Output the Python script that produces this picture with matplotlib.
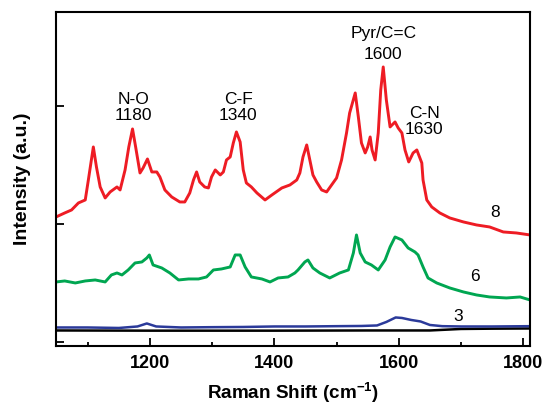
import matplotlib
matplotlib.use("Agg")
import matplotlib.pyplot as plt
from matplotlib.ticker import MultipleLocator

plt.rcParams['font.family'] = ['Liberation Sans', 'DejaVu Sans']
plt.rcParams['mathtext.fontset'] = 'custom'
plt.rcParams['mathtext.rm'] = 'Liberation Sans'
plt.rcParams['mathtext.bf'] = 'Liberation Sans:bold'

# Raman spectra (intensity in a.u., offset stacked)
shift_8 = [1049, 1063, 1074, 1085, 1096, 1101, 1109, 1114, 1120, 1128, 1136, 1147,
           1152, 1160, 1166, 1172, 1177, 1184, 1189, 1196, 1203, 1211, 1216, 1224,
           1235, 1248, 1256, 1264, 1270, 1275, 1280, 1288, 1294, 1299, 1305, 1313,
           1318, 1323, 1329, 1334, 1339, 1345, 1350, 1355, 1363, 1372, 1385, 1396,
           1412, 1425, 1436, 1441, 1446, 1452, 1457, 1462, 1468, 1476, 1484, 1492,
           1500, 1508, 1516, 1521, 1530, 1535, 1540, 1546, 1550, 1554, 1557, 1562,
           1567, 1571, 1575, 1580, 1586, 1594, 1599, 1605, 1610, 1616, 1623, 1629,
           1637, 1639, 1645, 1653, 1666, 1682, 1704, 1725, 1746, 1768, 1789, 1811]
int_8 = [125, 129, 132, 139, 142, 162, 195, 175, 155, 144, 150, 155,
         152, 172, 195, 213, 195, 169, 174, 183, 170, 170, 165, 152,
         145, 140, 140, 149, 162, 170, 160, 155, 154, 165, 172, 167,
         170, 182, 185, 199, 210, 200, 172, 159, 155, 149, 142, 147,
         154, 157, 162, 169, 185, 197, 182, 167, 160, 152, 150, 157,
         164, 182, 209, 229, 249, 225, 199, 189, 195, 205, 192, 182,
         209, 252, 275, 242, 215, 220, 214, 209, 192, 180, 189, 192,
         179, 162, 142, 135, 129, 124, 120, 117, 115, 110, 109, 107]

shift_6 = [1049, 1063, 1080, 1096, 1112, 1128, 1138, 1147, 1155, 1165, 1176, 1187,
           1195, 1199, 1205, 1219, 1232, 1246, 1262, 1278, 1291, 1302, 1315, 1329,
           1337, 1345, 1353, 1363, 1380, 1393, 1406, 1422, 1433, 1438, 1449, 1454,
           1462, 1473, 1489, 1505, 1519, 1527, 1532, 1538, 1546, 1556, 1567, 1578,
           1586, 1594, 1605, 1615, 1626, 1631, 1639, 1647, 1661, 1682, 1704, 1725,
           1746, 1773, 1795, 1811]
int_6 = [60, 61, 59, 61, 62, 60, 67, 69, 67, 72, 79, 80,
         84, 87, 77, 74, 69, 62, 63, 63, 65, 72, 73, 75,
         87, 87, 75, 65, 63, 60, 64, 65, 69, 72, 80, 82,
         74, 69, 64, 69, 72, 89, 107, 89, 80, 77, 72, 82,
         95, 105, 102, 94, 90, 87, 75, 64, 59, 54, 50, 47,
         45, 44, 45, 42]

shift_3 = [1049, 1100, 1150, 1180, 1195, 1210, 1250, 1300, 1350, 1400, 1450, 1500,
           1540, 1565, 1580, 1595, 1605, 1620, 1635, 1650, 1670, 1700, 1750, 1811]
int_3 = [14.5, 14.5, 14.0, 15.5, 18.5, 15.5, 14.5, 14.8, 15.0, 15.5, 15.5, 15.8,
         16.0, 16.5, 20.0, 24.5, 24.0, 22.0, 20.5, 17.0, 15.8, 15.5, 15.5, 15.8]

shift_0 = [1049, 1200, 1400, 1550, 1650, 1700, 1750, 1811]
int_0 = [11.5, 11.3, 11.3, 11.5, 11.5, 13.0, 13.3, 13.5]

peak_labels = [("N-O\n1180", 1173, 234.5), ("C-F\n1340", 1342, 234.5),
               ("C-N\n1630", 1641, 220.5)]
curve_labels = [("8", 1754, 129), ("6", 1722, 65), ("3", 1695, 25)]

fig = plt.figure(figsize=(5.47, 4.12), dpi=100)
ax = fig.add_axes([0.1024, 0.161, 0.8666, 0.810])

ax.plot(shift_0, int_0, color="black", lw=1.8)
ax.plot(shift_3, int_3, color="#2b3a9a", lw=1.8)
ax.plot(shift_6, int_6, color="#00a651", lw=2.1)
ax.plot(shift_8, int_8, color="#ee1c24", lw=2.1)

for txt, x, y in peak_labels:
    ax.text(x, y, txt, ha="center", va="center", fontsize=12.5, linespacing=1.05)
ax.text(1575, 308.7, "Pyr/C=C", ha="center", va="center", fontsize=12.5)
ax.text(1575, 287, "1600", ha="center", va="center", fontsize=12.5)
for txt, x, y in curve_labels:
    ax.text(x, y, txt, ha="center", va="center", fontsize=12.5)

ax.set_xlim(1049, 1811)
ax.set_ylim(-3.7, 330)
ax.xaxis.set_major_locator(MultipleLocator(200))
ax.xaxis.set_minor_locator(MultipleLocator(100))
ax.set_yticks([0, 118, 236])
ax.set_yticklabels([])
ax.tick_params(axis="x", which="major", direction="in", length=6, width=1.3,
               pad=7, labelsize=13)
ax.tick_params(axis="x", which="minor", direction="in", length=3, width=1.3)
ax.tick_params(axis="y", direction="in", length=6, width=1.3)
for lab in ax.get_xticklabels():
    lab.set_fontweight("bold")
for sp in ax.spines.values():
    sp.set_linewidth(1.5)

ax.set_xlabel(r"Raman Shift (cm$^{\mathbf{-1}}$)", fontsize=13.6, fontweight="bold")
ax.xaxis.label.set_va("center")
ax.xaxis.set_label_coords(0.5, -0.14)
ax.set_ylabel("Intensity (a.u.)", fontsize=14, fontweight="bold")
ax.yaxis.label.set_va("center")
ax.yaxis.set_label_coords(-0.07, 0.5)

fig.savefig("out.png", dpi=100)
